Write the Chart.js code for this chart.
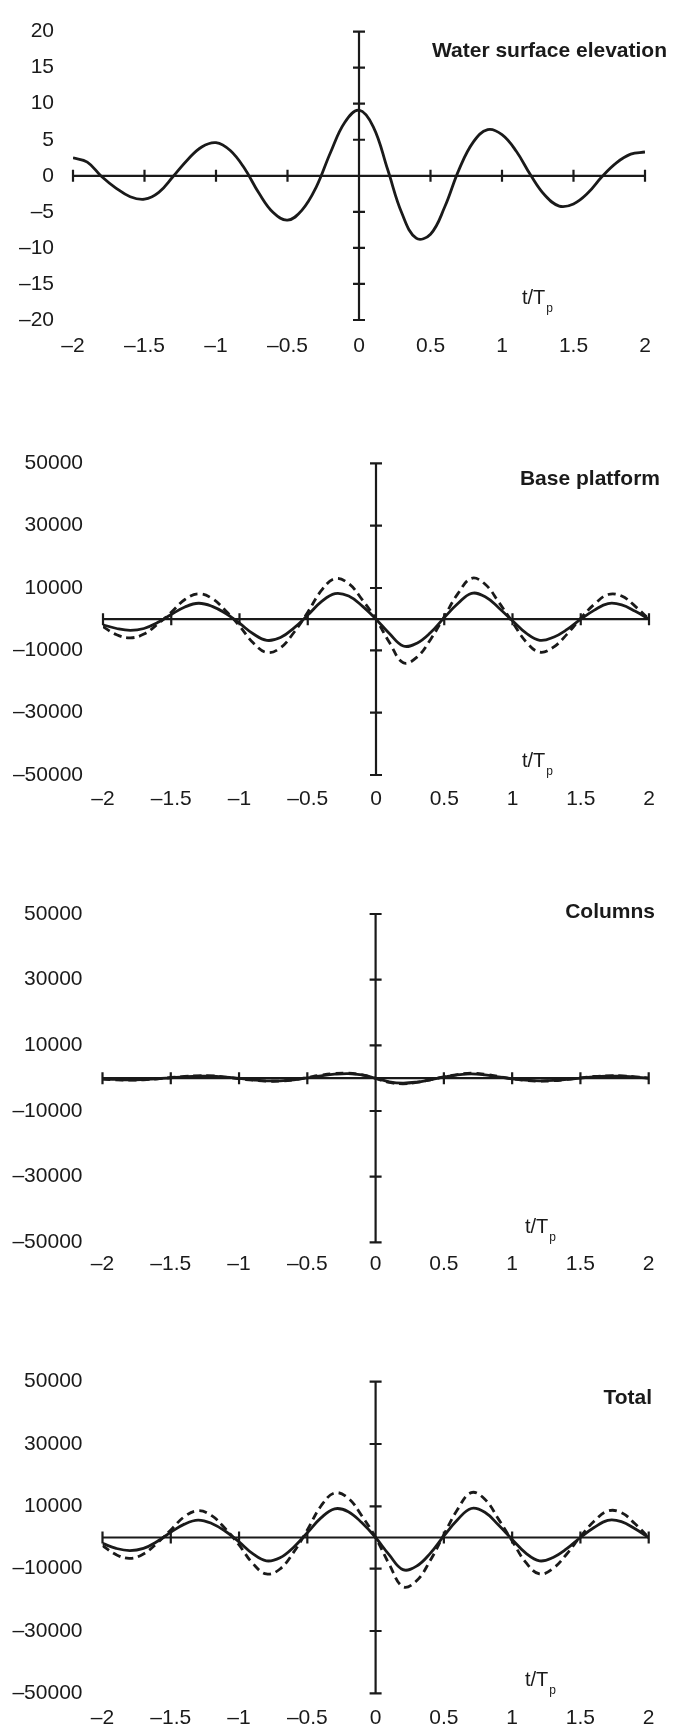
<!DOCTYPE html>
<html>
<head>
<meta charset="utf-8">
<script src="https://cdn.jsdelivr.net/npm/chart.js@4"></script>
<style>
  body { margin: 0; background: #fff; }
  #page { position: relative; width: 682px; height: 1726px; overflow: hidden; }
  canvas { position: absolute; left: 0; }
  .title { position: absolute; font: bold 21px "Liberation Sans", Arial, sans-serif; color: #1a1a1a; white-space: nowrap; line-height: 1; text-align: right; }
  .axlab { position: absolute; font: 20px "Liberation Sans", Arial, sans-serif; color: #1a1a1a; white-space: nowrap; line-height: 1; }
  .axlab span { font-size: 12px; position: relative; top: 8px; margin-left: 1px; }
</style>
</head>
<body>
<div id="page">
  <canvas id="c1" width="682" height="370" style="top:0px"></canvas>
  <canvas id="c2" width="682" height="420" style="top:420px"></canvas>
  <canvas id="c3" width="682" height="420" style="top:860px"></canvas>
  <canvas id="c4" width="682" height="426" style="top:1300px"></canvas>

  <div class="title" style="right:15px; top:39px">Water surface elevation</div>
  <div class="title" style="right:22px; top:467px">Base platform</div>
  <div class="title" style="right:27px; top:900px">Columns</div>
  <div class="title" style="right:30px; top:1386px">Total</div>

  <div class="axlab" style="left:522px; top:287px">t/T<span>p</span></div>
  <div class="axlab" style="left:522px; top:750px">t/T<span>p</span></div>
  <div class="axlab" style="left:525px; top:1216px">t/T<span>p</span></div>
  <div class="axlab" style="left:525px; top:1669px">t/T<span>p</span></div>
</div>

<script>
// t/Tp sampling
const tValues = [-2, -1.9, -1.8, -1.7, -1.6, -1.5, -1.4, -1.3, -1.2, -1.1,
                 -1, -0.9, -0.8, -0.7, -0.6, -0.5, -0.4, -0.3, -0.2, -0.1,
                 0, 0.1, 0.2, 0.3, 0.4, 0.5, 0.6, 0.7, 0.8, 0.9,
                 1, 1.1, 1.2, 1.3, 1.4, 1.5, 1.6, 1.7, 1.8, 1.9, 2];

const xTicks = [-2, -1.5, -1, -0.5, 0, 0.5, 1, 1.5, 2];
const elevationTicks = [20, 15, 10, 5, 0, -5, -10, -15, -20];
const forceTicks = [50000, 30000, 10000, -10000, -30000, -50000];

const waterElevation = [2.5, 1.9, -0.1, -1.7, -2.9, -3.25, -2.3, -0.1, 2.2, 4.0,
                        4.6, 3.5, 1.0, -2.4, -5.1, -6.15, -4.8, -1.6, 3.2, 7.4,
                        9.1, 6.8, 0.9, -5.2, -8.65, -8.1, -4.3, 0.9, 4.7, 6.4,
                        5.7, 3.4, 0.1, -2.7, -4.2, -3.9, -2.4, -0.1, 1.8, 3.0, 3.3];

const baseSolid = [-1800, -3000, -3600, -3000, -1100, 1500, 3900, 5100, 4100, 1800,
                   -1300, -4700, -6800, -5900, -2800, 1300, 5600, 8200, 7400, 4200,
                   0, -4700, -8600, -7700, -4300, 500, 5000, 8300, 7200, 3600,
                   -500, -4500, -6800, -5800, -3300, 0, 2900, 5000, 4600, 2500, 0];
const baseDashed = [-2400, -5000, -6000, -4800, -1600, 2200, 6300, 8100, 6600, 2600,
                    -2200, -7600, -10700, -9200, -4200, 2200, 9200, 13000, 11400, 6200,
                    0, -7600, -14000, -12200, -6500, 800, 8200, 13100, 11200, 5400,
                    -1000, -7300, -10600, -9000, -4800, 300, 4800, 7900, 7400, 4100, 0];

const columnsSolid = [-200, -400, -500, -400, -200, 100, 400, 600, 600, 300,
                      -100, -500, -800, -800, -500, 100, 700, 1200, 1400, 1000,
                      0, -1100, -1500, -1200, -500, 300, 1000, 1300, 1000, 400,
                      -200, -600, -800, -700, -400, 0, 400, 600, 600, 300, 0];
const columnsDashed = [-300, -500, -600, -500, -200, 200, 500, 700, 700, 300,
                       -200, -600, -900, -900, -500, 200, 900, 1400, 1500, 1000,
                       -100, -1300, -1700, -1300, -500, 400, 1100, 1500, 1200, 500,
                       -200, -700, -900, -800, -400, 100, 500, 700, 700, 400, 0];

const totalSolid = [-1900, -3500, -4200, -3500, -1300, 1700, 4300, 5600, 4500, 2000,
                    -1400, -5200, -7500, -6500, -3100, 1500, 6300, 9200, 8300, 4700,
                    0, -5600, -10300, -9200, -5100, 500, 5700, 9300, 8100, 4000,
                    -600, -5000, -7500, -6400, -3600, 0, 3200, 5500, 5100, 2800, 0];
const totalDashed = [-2600, -5500, -6700, -5300, -1800, 2400, 6700, 8600, 7000, 2800,
                     -2400, -8300, -11700, -10100, -4700, 2400, 10100, 14300, 12600, 6900,
                     0, -8600, -15800, -13900, -7400, 900, 9000, 14400, 12300, 5900,
                     -1100, -8000, -11700, -9900, -5300, 300, 5200, 8500, 8000, 4400, 0];

const ink = '#1a1a1a';
Chart.defaults.font.family = '"Liberation Sans", Arial, sans-serif';
Chart.defaults.font.size = 21;
Chart.defaults.color = ink;

// axes crossing at the origin, with cross ticks
const crossAxes = {
  id: 'crossAxes',
  beforeDatasetsDraw(chart) {
    const ctx = chart.ctx;
    const x = chart.scales.x, y = chart.scales.y;
    const x0 = x.getPixelForValue(0);
    const y0 = y.getPixelForValue(0);
    ctx.save();
    ctx.strokeStyle = ink;
    ctx.lineWidth = 2.2;
    ctx.beginPath();
    ctx.moveTo(x.getPixelForValue(x.min), y0);
    ctx.lineTo(x.getPixelForValue(x.max), y0);
    ctx.moveTo(x0, y.getPixelForValue(y.max));
    ctx.lineTo(x0, y.getPixelForValue(y.min));
    xTicks.forEach(v => {
      const px = x.getPixelForValue(v);
      ctx.moveTo(px, y0 - 6);
      ctx.lineTo(px, y0 + 6);
    });
    y.ticks.forEach(t => {
      if (t.value === 0) return;
      const py = y.getPixelForValue(t.value);
      ctx.moveTo(x0 - 6, py);
      ctx.lineTo(x0 + 6, py);
    });
    ctx.stroke();
    ctx.restore();
  }
};

const dash = s => String(s).replace('-', '\u2013');

function makePanel(id, p) {
  const datasets = p.series.map((vals, i) => ({
    data: vals.map((v, k) => ({ x: tValues[k], y: v })),
    borderColor: ink,
    borderWidth: 2.8,
    borderDash: i === 1 ? [8, 5] : [],
    pointRadius: 0,
    tension: 0.4,
    fill: false
  }));

  new Chart(document.getElementById(id), {
    type: 'line',
    data: { datasets: datasets },
    plugins: [crossAxes],
    options: {
      responsive: false,
      animation: false,
      layout: { padding: { top: p.top, right: p.right, left: 0, bottom: 0 } },
      plugins: { legend: { display: false }, tooltip: { enabled: false } },
      scales: {
        x: {
          type: 'linear',
          min: -2, max: 2,
          grid: { display: false, drawTicks: false },
          border: { display: false },
          afterBuildTicks: s => { s.ticks = xTicks.map(v => ({ value: v })); },
          afterFit: s => { s.height = p.xHeight; },
          ticks: { padding: p.xPad, autoSkip: false, maxRotation: 0, callback: v => dash(v) }
        },
        y: {
          min: p.yTicks[p.yTicks.length - 1], max: p.yTicks[0],
          grid: { display: false, drawTicks: false },
          border: { display: false },
          afterBuildTicks: s => { s.ticks = p.yTicks.map(v => ({ value: v })); },
          afterFit: s => { s.width = p.yWidth; },
          ticks: { padding: p.yPad, autoSkip: false, callback: v => dash(v) }
        }
      }
    }
  });
}

makePanel('c1', { series: [waterElevation], yTicks: elevationTicks,
  top: 20.7, right: 37, xHeight: 50, yWidth: 73, xPad: 14, yPad: 19 });
makePanel('c2', { series: [baseSolid, baseDashed], yTicks: forceTicks,
  top: 43.3, right: 33, xHeight: 65, yWidth: 103, xPad: 12, yPad: 20 });
makePanel('c3', { series: [columnsSolid, columnsDashed], yTicks: forceTicks,
  top: 54, right: 33.3, xHeight: 37.7, yWidth: 102.5, xPad: 9, yPad: 20 });
makePanel('c4', { series: [totalSolid, totalDashed], yTicks: forceTicks,
  top: 81.7, right: 33.3, xHeight: 32.7, yWidth: 102.5, xPad: 12, yPad: 20 });
</script>
</body>
</html>
